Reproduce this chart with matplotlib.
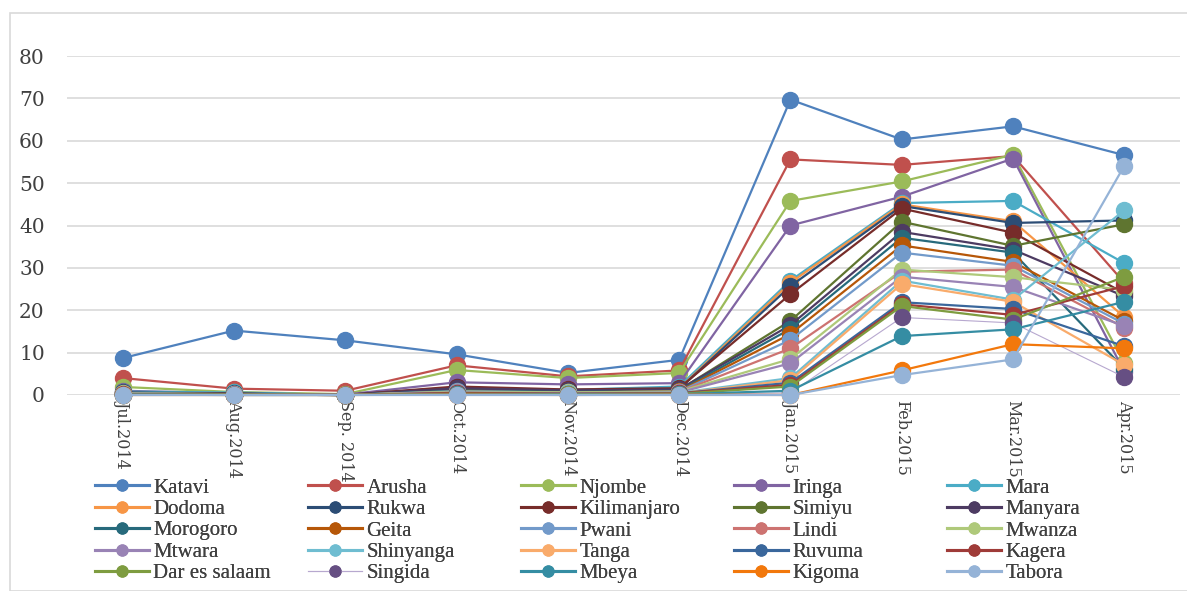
"""Monthly regional series, Jul 2014 - Apr 2015, one line per region."""

import matplotlib
import numpy as np

matplotlib.use("Agg")
import matplotlib.pyplot as plt  # noqa: E402
from matplotlib.patches import Rectangle  # noqa: E402

months = ["Jul.2014", "Aug.2014", "Sep. 2014", "Oct.2014", "Nov.2014",
          "Dec.2014", "Jan.2015", "Feb.2015", "Mar.2015", "Apr.2015"]

regions = ["Katavi", "Arusha", "Njombe", "Iringa", "Mara",
           "Dodoma", "Rukwa", "Kilimanjaro", "Simiyu", "Manyara",
           "Morogoro", "Geita", "Pwani", "Lindi", "Mwanza",
           "Mtwara", "Shinyanga", "Tanga", "Ruvuma", "Kagera",
           "Dar es salaam", "Singida", "Mbeya", "Kigoma", "Tabora"]

katavi = [8.7, 15.2, 12.9, 9.6, 5.2, 8.3, 69.7, 60.3, 63.4, 56.6]
arusha = [4.0, 1.5, 1.0, 7.0, 4.4, 5.8, 55.6, 54.3, 56.4, 26.5]
njombe = [1.9, 0.7, 0.2, 5.9, 4.0, 5.2, 45.8, 50.4, 56.7, 7.5]
iringa = [1.0, 0.4, 0.1, 3.0, 2.5, 2.8, 40.0, 46.8, 55.8, 5.5]
mara = [0.8, 0.6, 0.0, 1.5, 1.2, 2.0, 27.0, 45.3, 45.8, 31.1]
dodoma = [0.4, 0.3, 0.0, 1.0, 0.8, 1.5, 26.5, 45.0, 41.0, 18.4]
rukwa = [0.6, 0.4, 0.0, 1.8, 1.0, 1.4, 25.7, 44.6, 40.6, 41.2]
kilimanjaro = [0.5, 0.3, 0.0, 2.0, 1.3, 1.6, 23.8, 44.0, 38.3, 24.0]
simiyu = [0.3, 0.2, 0.0, 1.2, 0.9, 1.2, 17.5, 40.9, 35.2, 40.3]
manyara = [0.4, 0.2, 0.0, 1.6, 1.1, 1.3, 16.5, 38.5, 34.3, 23.3]
morogoro = [0.3, 0.2, 0.0, 1.0, 0.7, 1.0, 15.6, 37.1, 33.6, 6.2]
geita = [0.2, 0.1, 0.0, 0.8, 0.6, 0.9, 14.4, 35.3, 31.4, 17.5]
pwani = [0.3, 0.2, 0.0, 0.9, 0.6, 0.8, 13.0, 33.6, 30.5, 16.8]
lindi = [0.2, 0.1, 0.0, 0.7, 0.5, 0.7, 11.0, 29.1, 29.6, 15.9]
mwanza = [0.4, 0.2, 0.0, 0.8, 0.6, 0.8, 8.5, 29.6, 27.8, 24.8]
mtwara = [0.3, 0.2, 0.0, 0.6, 0.4, 0.6, 7.5, 27.9, 25.5, 16.3]
shinyanga = [0.2, 0.1, 0.0, 0.5, 0.4, 0.5, 4.0, 27.0, 22.5, 43.6]
tanga = [0.2, 0.1, 0.0, 0.4, 0.3, 0.4, 3.5, 26.2, 22.0, 7.1]
ruvuma = [0.1, 0.1, 0.0, 0.4, 0.3, 0.4, 2.9, 21.9, 20.3, 11.5]
kagera = [0.2, 0.1, 0.0, 0.5, 0.3, 0.4, 2.4, 21.4, 18.9, 25.7]
dar_es_salaam = [0.1, 0.1, 0.0, 0.3, 0.2, 0.3, 2.0, 21.0, 17.8, 27.9]
singida = [0.1, 0.0, 0.0, 0.2, 0.1, 0.2, 0.5, 18.3, 17.0, 4.2]
mbeya = [0.1, 0.0, 0.0, 0.2, 0.1, 0.2, 1.0, 13.9, 15.5, 22.0]
kigoma = [0.0, 0.0, 0.0, 0.1, 0.0, 0.1, 0.0, 5.8, 12.0, 11.0]
tabora = [0.0, 0.0, 0.0, 0.0, 0.0, 0.0, 0.0, 4.7, 8.4, 54.1]

series = [katavi, arusha, njombe, iringa, mara,
          dodoma, rukwa, kilimanjaro, simiyu, manyara,
          morogoro, geita, pwani, lindi, mwanza,
          mtwara, shinyanga, tanga, ruvuma, kagera,
          dar_es_salaam, singida, mbeya, kigoma, tabora]

colors = ["#4F81BD", "#C0504D", "#9BBB59", "#8064A2", "#4BACC6",
          "#F79646", "#2C4D75", "#772C2A", "#5F7530", "#4D3B62",
          "#276A7C", "#B65708", "#729ACA", "#CD7371", "#AFC97A",
          "#9983B5", "#6FBDD1", "#F9AB6B", "#3A679C", "#9F3B38",
          "#7E9C40", "#664F83", "#358DA3", "#F2780C", "#95B3D7"]

serif_nums = ["DejaVu Serif"]
serif_text = ["Liberation Serif", "DejaVu Serif"]
W, H = 1187, 591

fig = plt.figure(figsize=(W / 100, H / 100), dpi=100)
ax = fig.add_axes([67 / W, 1 - 395 / H, (1180 - 67) / W, (395 - 56) / H])

x = np.arange(len(months))
handles = []
for name, vals, col in zip(regions, series, colors):
    line_col = col
    lw = 1.6
    if name == "Singida":
        # thin pale line, dark markers
        line_col = "#B7A8CF"
        lw = 0.8
    (ln,) = ax.plot(x, vals, color=line_col, lw=lw, marker="o", ms=11.5,
                    markerfacecolor=col, markeredgecolor=col, clip_on=False,
                    zorder=3, label=name)
    handles.append(ln)

ax.set_xlim(-0.5, len(months) - 0.5)
ax.set_ylim(0, 80)
ax.set_yticks(np.arange(0, 81, 10))
ax.yaxis.grid(True, color="#D9D9D9", lw=1.2)
ax.set_axisbelow(True)
ax.tick_params(axis="both", length=0)
ax.tick_params(axis="y", pad=16)
for s in ax.spines.values():
    s.set_visible(False)

ax.set_xticks(x)
ax.set_xticklabels(months, rotation=-90, va="top", ha="center",
                   fontsize=11.5, family=serif_nums, color="#404040")
for lbl in ax.get_yticklabels():
    lbl.set_fontsize(14.5)
    lbl.set_family(serif_nums)
    lbl.set_color("#404040")

# legend: five equal-width columns, entries run across rows
ncol = 5
col_x = [95, 308, 521, 734, 947]
for c in range(ncol):
    idx = list(range(c, len(regions), ncol))
    leg = fig.legend([handles[i] for i in idx], [regions[i] for i in idx],
                     loc="upper left", bbox_to_anchor=(col_x[c] / W, 1 - 478 / H),
                     frameon=False, prop={"family": serif_text, "size": 15},
                     handlelength=2.6, handletextpad=0.2, labelspacing=0.09,
                     borderaxespad=0, borderpad=0, markerscale=0.68,
                     labelcolor="#404040")
    for lh, i in zip(leg.legend_handles, idx):
        lh.set_linewidth(0.8 if regions[i] == "Singida" else 2.2)
    fig.add_artist(leg)

fig.patches.append(Rectangle((10 / W, 0), 1.0, 1 - 13 / H,
                             transform=fig.transFigure, fill=False,
                             edgecolor="#D9D9D9", lw=1.2))

fig.savefig("out.png", dpi=100)
plt.close(fig)
